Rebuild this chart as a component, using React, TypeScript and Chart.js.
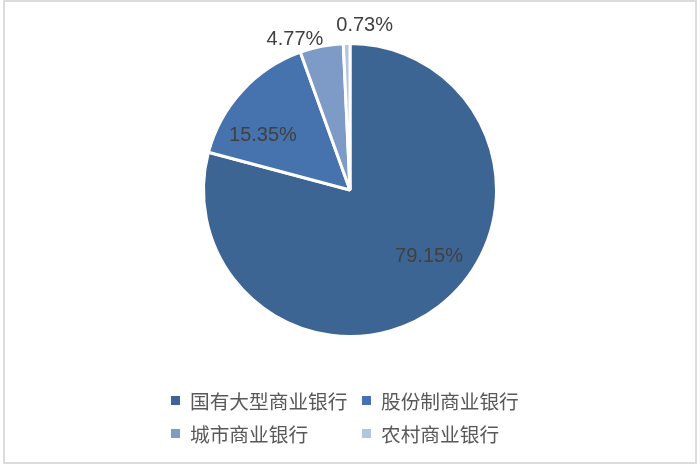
import { useEffect, useRef } from "react";
import { Chart, registerables } from "chart.js";

Chart.register(...registerables);

const categories = ["国有大型商业银行", "股份制商业银行", "城市商业银行", "农村商业银行"];
const shares = [79.15, 15.35, 4.77, 0.73];
const sliceColors = ["#3d6594", "#4673ae", "#7e9bc8", "#b4c5e2"];

// where each percentage sits, relative to the slice middle
const labelRadius = [0.707, 0.701, 1.093, 1.127];
const labelTurn = [-12.2, -10.5, -8.9, 6.4];

const percentLabels = {
  id: "percentLabels",
  afterDatasetsDraw(chart: Chart) {
    const { ctx } = chart;
    const meta = chart.getDatasetMeta(0);
    ctx.save();
    ctx.font = '20px "Liberation Sans", Arial, sans-serif';
    ctx.fillStyle = "#404040";
    ctx.textAlign = "center";
    ctx.textBaseline = "middle";
    meta.data.forEach((el: any, i: number) => {
      const { x, y, startAngle, endAngle, outerRadius } = el.getProps(
        ["x", "y", "startAngle", "endAngle", "outerRadius"],
        true
      );
      const a = (startAngle + endAngle) / 2 + (labelTurn[i] * Math.PI) / 180;
      const r = outerRadius * labelRadius[i];
      ctx.fillText(shares[i].toFixed(2) + "%", x + Math.cos(a) * r, y + Math.sin(a) * r);
    });
    ctx.restore();
  },
};

const App = () => {
  const chartRef = useRef<HTMLCanvasElement>(null);
  const chartInstance = useRef<Chart | null>(null);

  useEffect(() => {
    document.body.style.margin = "0";
    if (!chartRef.current) return;
    if (chartInstance.current) chartInstance.current.destroy();

    chartInstance.current = new Chart(chartRef.current, {
      type: "pie",
      data: {
        labels: categories,
        datasets: [
          {
            data: shares,
            backgroundColor: sliceColors,
            borderColor: "#ffffff",
            borderWidth: 3,
          },
        ],
      },
      options: {
        animation: false,
        responsive: false,
        radius: 146.5,
        layout: { padding: { top: 0, bottom: 86, left: 0, right: 0 } },
        plugins: {
          legend: { display: false },
          tooltip: { enabled: false },
        },
      },
      plugins: [percentLabels],
    });

    return () => {
      if (chartInstance.current) {
        chartInstance.current.destroy();
        chartInstance.current = null;
      }
    };
  }, []);

  return (
    <div style={{ position: "relative", width: 700, height: 466, background: "#fff" }}>
      <div
        style={{
          position: "absolute",
          left: 3,
          top: 0,
          width: 690,
          height: 460,
          border: "2px solid #dcdcdc",
        }}
      />
      <canvas ref={chartRef} width={700} height={466} style={{ position: "absolute", left: 0, top: 0 }} />
      <div
        style={{
          position: "absolute",
          left: 171,
          top: 384,
          display: "grid",
          gridTemplateColumns: "191px 191px",
          fontFamily: '"Noto Sans CJK SC", sans-serif',
          fontSize: 19.7,
          lineHeight: "33px",
          color: "#595959",
        }}
      >
        {categories.map((c, i) => (
          <div key={c} style={{ display: "flex", alignItems: "center", whiteSpace: "nowrap" }}>
            <span
              style={{
                display: "inline-block",
                width: 9,
                height: 9,
                background: sliceColors[i],
                marginRight: 10,
              }}
            />
            <span>{c}</span>
          </div>
        ))}
      </div>
    </div>
  );
};

export default App;
